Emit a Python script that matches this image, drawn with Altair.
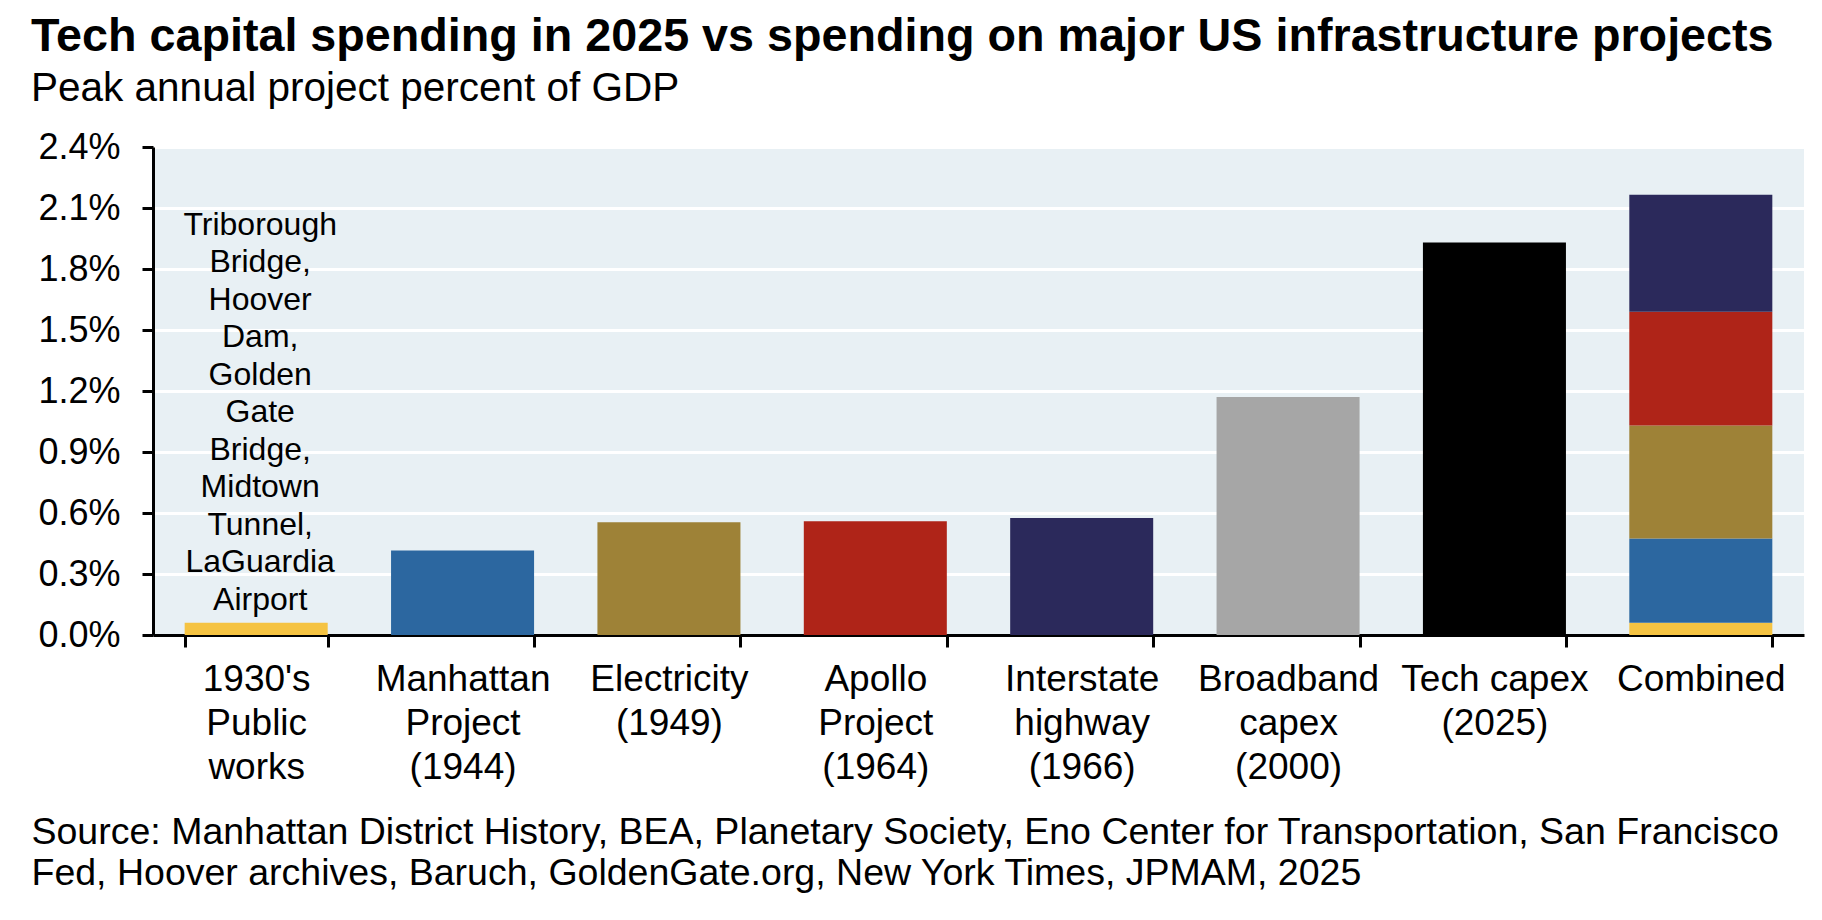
import altair as alt
import pandas as pd

# ---- data ----
categories = [
    "1930's\nPublic\nworks",
    "Manhattan\nProject\n(1944)",
    "Electricity\n(1949)",
    "Apollo\nProject\n(1964)",
    "Interstate\nhighway\n(1966)",
    "Broadband\ncapex\n(2000)",
    "Tech capex\n(2025)",
    "Combined",
]
values = [0.06, 0.415, 0.555, 0.56, 0.575, 1.17, 1.93]  # percent of GDP
colors = ["#F5C342", "#2C67A0", "#9E8237", "#AF2418", "#2B295B", "#A6A6A6", "#000000"]
combined_parts = categories[:5]
annotation_lines = ["Triborough", "Bridge,", "Hoover", "Dam,", "Golden", "Gate",
                    "Bridge,", "Midtown", "Tunnel,", "LaGuardia", "Airport"]
y_ticks = [0.0, 0.3, 0.6, 0.9, 1.2, 1.5, 1.8, 2.1, 2.4]
title_text = "Tech capital spending in 2025 vs spending on major US infrastructure projects"
subtitle_text = "Peak annual project percent of GDP"
source_lines = [
    "Source: Manhattan District History, BEA, Planetary Society, Eno Center for Transportation, San Francisco",
    "Fed, Hoover archives, Baruch, GoldenGate.org, New York Times, JPMAM, 2025",
]

rows = []
for i in range(7):
    rows.append({"cat": categories[i], "series": categories[i], "value": values[i], "order": 0})
for i, part in enumerate(combined_parts):
    rows.append({"cat": "Combined", "series": part, "value": values[i], "order": i})
df = pd.DataFrame(rows)
ann = pd.DataFrame([{"cat": categories[0], "value": values[0]}])

FONT = "Liberation Sans"
NOTE_LH = 37.5

x_enc = alt.X(
    "cat:N",
    sort=categories,
    scale=alt.Scale(domain=categories, paddingInner=0.307, paddingOuter=0.1535),
    axis=alt.Axis(
        labelAngle=0,
        labelExpr="split(datum.label, '\\n')",
        labelFont=FONT,
        labelFontSize=37,
        labelLineHeight=44,
        labelBaseline="alphabetic",
        labelPadding=43,
        labelColor="black",
        labelAlign="center",
        labelLimit=400,
        tickBand="extent",
        tickSize=12,
        tickWidth=3,
        tickColor="black",
        domainWidth=3,
        domainColor="black",
        grid=False,
        title=source_lines,
        titleFont=FONT,
        titleFontSize=37.5,
        titleFontWeight="normal",
        titleColor="black",
        titleAnchor="start",
        titleAlign="left",
        titleBaseline="alphabetic",
        titleLineHeight=41,
        titleLimit=2000,
        titleX=-122,
        titleY=208,
    ),
)

y_enc = alt.Y(
    "value:Q",
    stack="zero",
    scale=alt.Scale(domain=[0, 2.4], nice=False),
    axis=alt.Axis(
        values=y_ticks,
        labelExpr="format(datum.value, '.1f') + '%'",
        labelFont=FONT,
        labelFontSize=36,
        labelColor="black",
        labelPadding=22,
        labelBaseline="middle",
        tickSize=11,
        tickWidth=3,
        tickColor="black",
        domainWidth=3,
        domainColor="black",
        grid=True,
        gridColor="white",
        gridWidth=3,
        title="",
    ),
)

bars = alt.Chart(df).mark_bar().encode(
    x=x_enc,
    y=y_enc,
    color=alt.Color("series:N", scale=alt.Scale(domain=categories[:7], range=colors), legend=None),
    order=alt.Order("order:Q", sort="ascending"),
)

note = alt.Chart(ann).mark_text(
    font=FONT, fontSize=32, lineHeight=NOTE_LH, baseline="bottom", align="center",
    dx=4, dy=-6 - NOTE_LH * (len(annotation_lines) - 1), color="black"
).encode(
    x=alt.X("cat:N", sort=categories),
    y=alt.Y("value:Q"),
    text=alt.value(annotation_lines),
)

chart = alt.layer(bars, note).properties(
    width=1651,
    height=488,
    padding={"left": 145, "top": 139, "right": 10, "bottom": 277},
    autosize=alt.AutoSizeParams(type="none"),
    title=alt.TitleParams(
        text=title_text,
        subtitle=subtitle_text,
        anchor="start",
        frame="group",
        dx=-122,
        font=FONT,
        fontSize=46.7,
        fontWeight="bold",
        color="black",
        subtitleFont=FONT,
        subtitleFontSize=40.5,
        subtitleColor="black",
        subtitlePadding=8,
        offset=20,
        limit=2000,
    ),
).configure(background="white").configure_view(fill="#E8F0F4", strokeWidth=0)

chart.save("out.html", embed_options={"renderer": "svg", "actions": False})
